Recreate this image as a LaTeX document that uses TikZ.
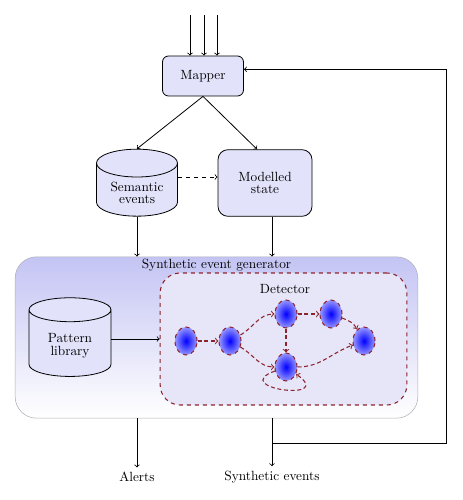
\documentclass[tikz,border=0pt]{standalone}
\usetikzlibrary{shapes.geometric}
\definecolor{boxfill}{RGB}{226,226,250}
\definecolor{gentop}{RGB}{196,196,244}
\definecolor{genline}{RGB}{175,175,185}
\definecolor{detfill}{RGB}{230,230,248}
\definecolor{detred}{RGB}{140,35,45}
\definecolor{blobout}{RGB}{150,150,255}

\begin{document}
\begin{tikzpicture}[x=0.75pt,y=0.75pt,font=\fontsize{10}{9.5}\selectfont,
  box/.style={rectangle, rounded corners=#1, draw, semithick, fill=boxfill, align=center, anchor=center},
  store/.style={cylinder, shape border rotate=90, aspect=0.45, draw, semithick, fill=boxfill, align=center},
  blob/.style={ellipse, draw=detred, dashed, thick, inner color=blue, outer color=blobout, minimum width=16.5pt, minimum height=21pt, inner sep=0pt},
  link/.style={->, detred, dash pattern=on 3pt off 2pt, thick}]
      \useasboundingbox (0,0) rectangle (462,500);

      \node[draw=genline, top color=gentop, bottom color=white, rounded corners=16pt, minimum width=302pt, minimum height=121pt] (gen) at (216.5,162.5) {};
      \node[anchor=north, inner sep=1.5pt] (genlabel) at (gen.north) {Synthetic event generator};
      \node[draw=detred, dashed, thick, fill=detfill, rounded corners=15pt, minimum width=185pt, minimum height=99pt] (det) at (283.5,161) {};
      \node (detlabel) at (285,211) {Detector};

      \node[box=4.5pt, minimum width=60.75pt, minimum height=30pt] (map) at (203,424) {Mapper};
      \node[store, minimum width=60.75pt, minimum height=50.25pt] (sem) at (137,307) {Semantic\\events};
      \node[box=7.5pt, minimum width=70.5pt, minimum height=50pt] (mod) at (265,317) {Modelled\\state};
      \node[store, minimum width=61.5pt, minimum height=59pt] (pat) at (70,154) {Pattern\\library};

      \node[blob] (n1) at (186,159) {};
      \node[blob] (n2) at (230,159) {};
      \node[blob] (n3) at (286,186) {};
      \node[blob] (n4) at (331,186) {};
      \node[blob] (n5) at (364,159) {};
      \node[blob] (n6) at (286,133) {};

      \node (alerts) at (137,23) {Alerts};
      \node (synev) at (272,23) {Synthetic events};

      \coordinate (in1) at (190,485);
      \coordinate (in2) at (204,485);
      \coordinate (in3) at (217,485);
      \coordinate (fb) at (446,57);

      \foreach \i in {1,2,3}
        \draw[->, semithick] (in\i) -- (in\i |- map.north);
      \draw[->, semithick] (map.south) -- (sem.north);
      \draw[->, semithick] (map.south) -- ([xshift=-6pt]mod.north);
      \draw[->, semithick, dashed] ([yshift=4.5pt]mod.west -| sem.east) -- ([yshift=4.5pt]mod.west);
      \draw[->, semithick] (sem.south) -- (sem.south |- gen.north);
      \draw[->, semithick] (mod.south -| synev) -- (gen.north -| synev);
      \draw[->, semithick] (det.west -| pat.east) -- (det.west);
      \draw[->, semithick] (gen.south -| alerts) -- (alerts);
      \draw[->, semithick] (gen.south -| synev) -- (synev);
      \draw[->, semithick] (fb -| synev) -- (fb) |- ([yshift=5pt]map.east);

      \draw[link] (n1) -- (n2);
      \draw[link] (n2) to[out=30,in=180] (n3);
      \draw[link] (n2) to[out=-30,in=180] (n6);
      \draw[link] (n3) -- (n4);
      \draw[link] (n3) -- (n6);
      \draw[link] (n4) to[out=-20,in=120] (n5);
      \draw[link] (n6) to[out=0,in=200] (n5);
      \draw[link] (n6) to[out=200,in=-35,looseness=6] (n6);
\end{tikzpicture}
\end{document}
